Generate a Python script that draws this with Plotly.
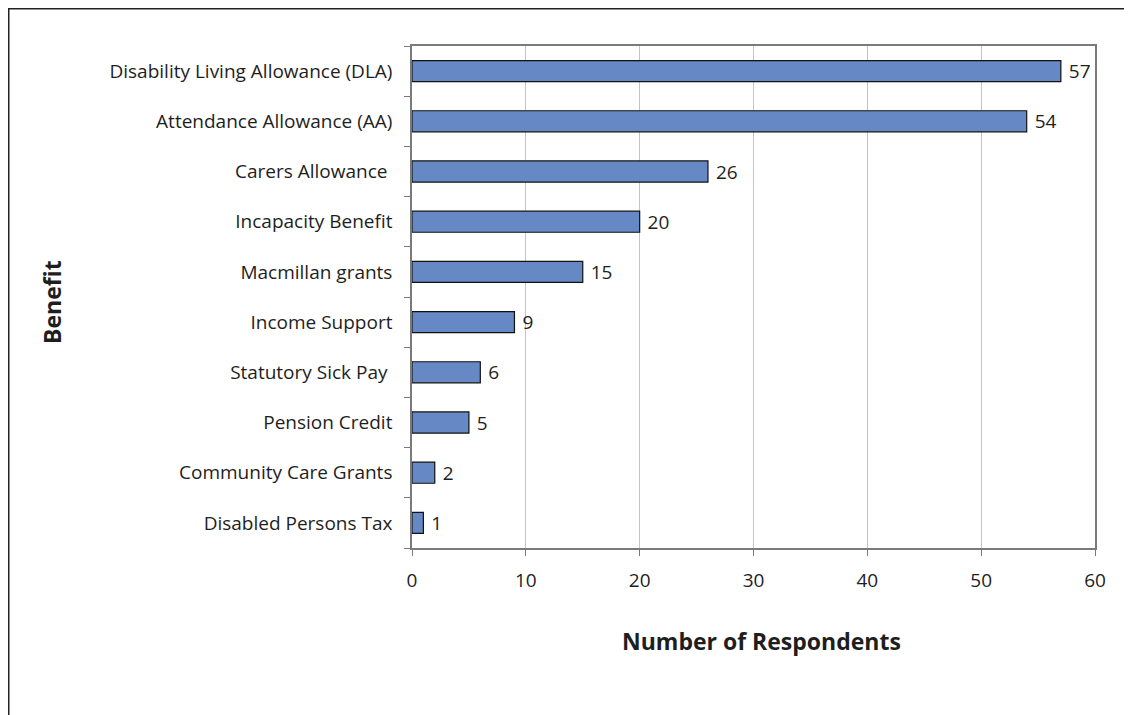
import plotly.graph_objects as go

categories = [
    "Disability Living Allowance (DLA)",
    "Attendance Allowance (AA)",
    "Carers Allowance ",
    "Incapacity Benefit",
    "Macmillan grants",
    "Income Support",
    "Statutory Sick Pay ",
    "Pension Credit",
    "Community Care Grants",
    "Disabled Persons Tax",
]
values = [57, 54, 26, 20, 15, 9, 6, 5, 2, 1]
x_ticks = [0, 10, 20, 30, 40, 50, 60]

FONT = "Open Sans, Noto Sans, sans-serif"
TXT = "#1e1e1e"

fig = go.Figure(go.Bar(
    x=values,
    y=categories,
    orientation="h",
    marker=dict(color="#6689C6", line=dict(color="#111111", width=1.2)),
    text=[" " + str(v) for v in values],
    textposition="outside",
    constraintext="none",
    cliponaxis=False,
    textfont=dict(family=FONT, size=19, color=TXT),
))

# page has an 8px body margin; figure sized to fit the window
W, H = 1124, 707
L, R, T, B = 404, 37, 38, 167
pw, ph = W - L - R, H - T - B

fig.update_layout(
    width=W, height=H,
    margin=dict(l=L, r=R, t=T, b=B),
    paper_bgcolor="white", plot_bgcolor="white",
    bargap=0.58,
    showlegend=False,
    font=dict(family=FONT, size=19, color=TXT),
)
fig.update_xaxes(
    range=[0, 60], tickvals=x_ticks, ticktext=[str(t) for t in x_ticks],
    showgrid=True, gridcolor="#c4c4c4", gridwidth=1,
    showline=True, linecolor="#7a7a7a", linewidth=1.5, mirror=True,
    ticks="outside", ticklen=6, tickcolor="#7a7a7a",
    ticklabelstandoff=8,
    tickfont=dict(family=FONT, size=19, color=TXT),
    zeroline=False, fixedrange=True,
)
fig.update_yaxes(
    categoryorder="array", categoryarray=categories[::-1],
    showline=True, linecolor="#7a7a7a", linewidth=1.5, mirror=True,
    ticks="outside", ticklen=6, tickcolor="#7a7a7a", tickson="boundaries",
    ticklabelstandoff=14,
    tickfont=dict(family=FONT, size=19, color=TXT),
    showgrid=False, fixedrange=True,
)

# axis titles
fig.add_annotation(
    text="<b>Number of Respondents</b>", xref="paper", yref="paper",
    x=(753 - L) / pw, y=-(633 - (T + ph)) / ph, showarrow=False,
    xanchor="center", yanchor="middle",
    font=dict(family=FONT, size=23, color=TXT),
)
fig.add_annotation(
    text="<b>Benefit</b>", xref="paper", yref="paper",
    x=(44 - L) / pw, y=((T + ph) - 294) / ph, showarrow=False, textangle=-90,
    xanchor="center", yanchor="middle",
    font=dict(family=FONT, size=23, color=TXT),
)

# outer frame
fig.add_shape(
    type="rect", xref="paper", yref="paper",
    x0=(0.5 - L) / pw, x1=(1140 - L) / pw,
    y0=((T + ph) - 725) / ph, y1=((T + ph) - 0.5) / ph,
    line=dict(color="#222222", width=2), fillcolor="rgba(0,0,0,0)",
    layer="below",
)

fig.write_html("out.html")
